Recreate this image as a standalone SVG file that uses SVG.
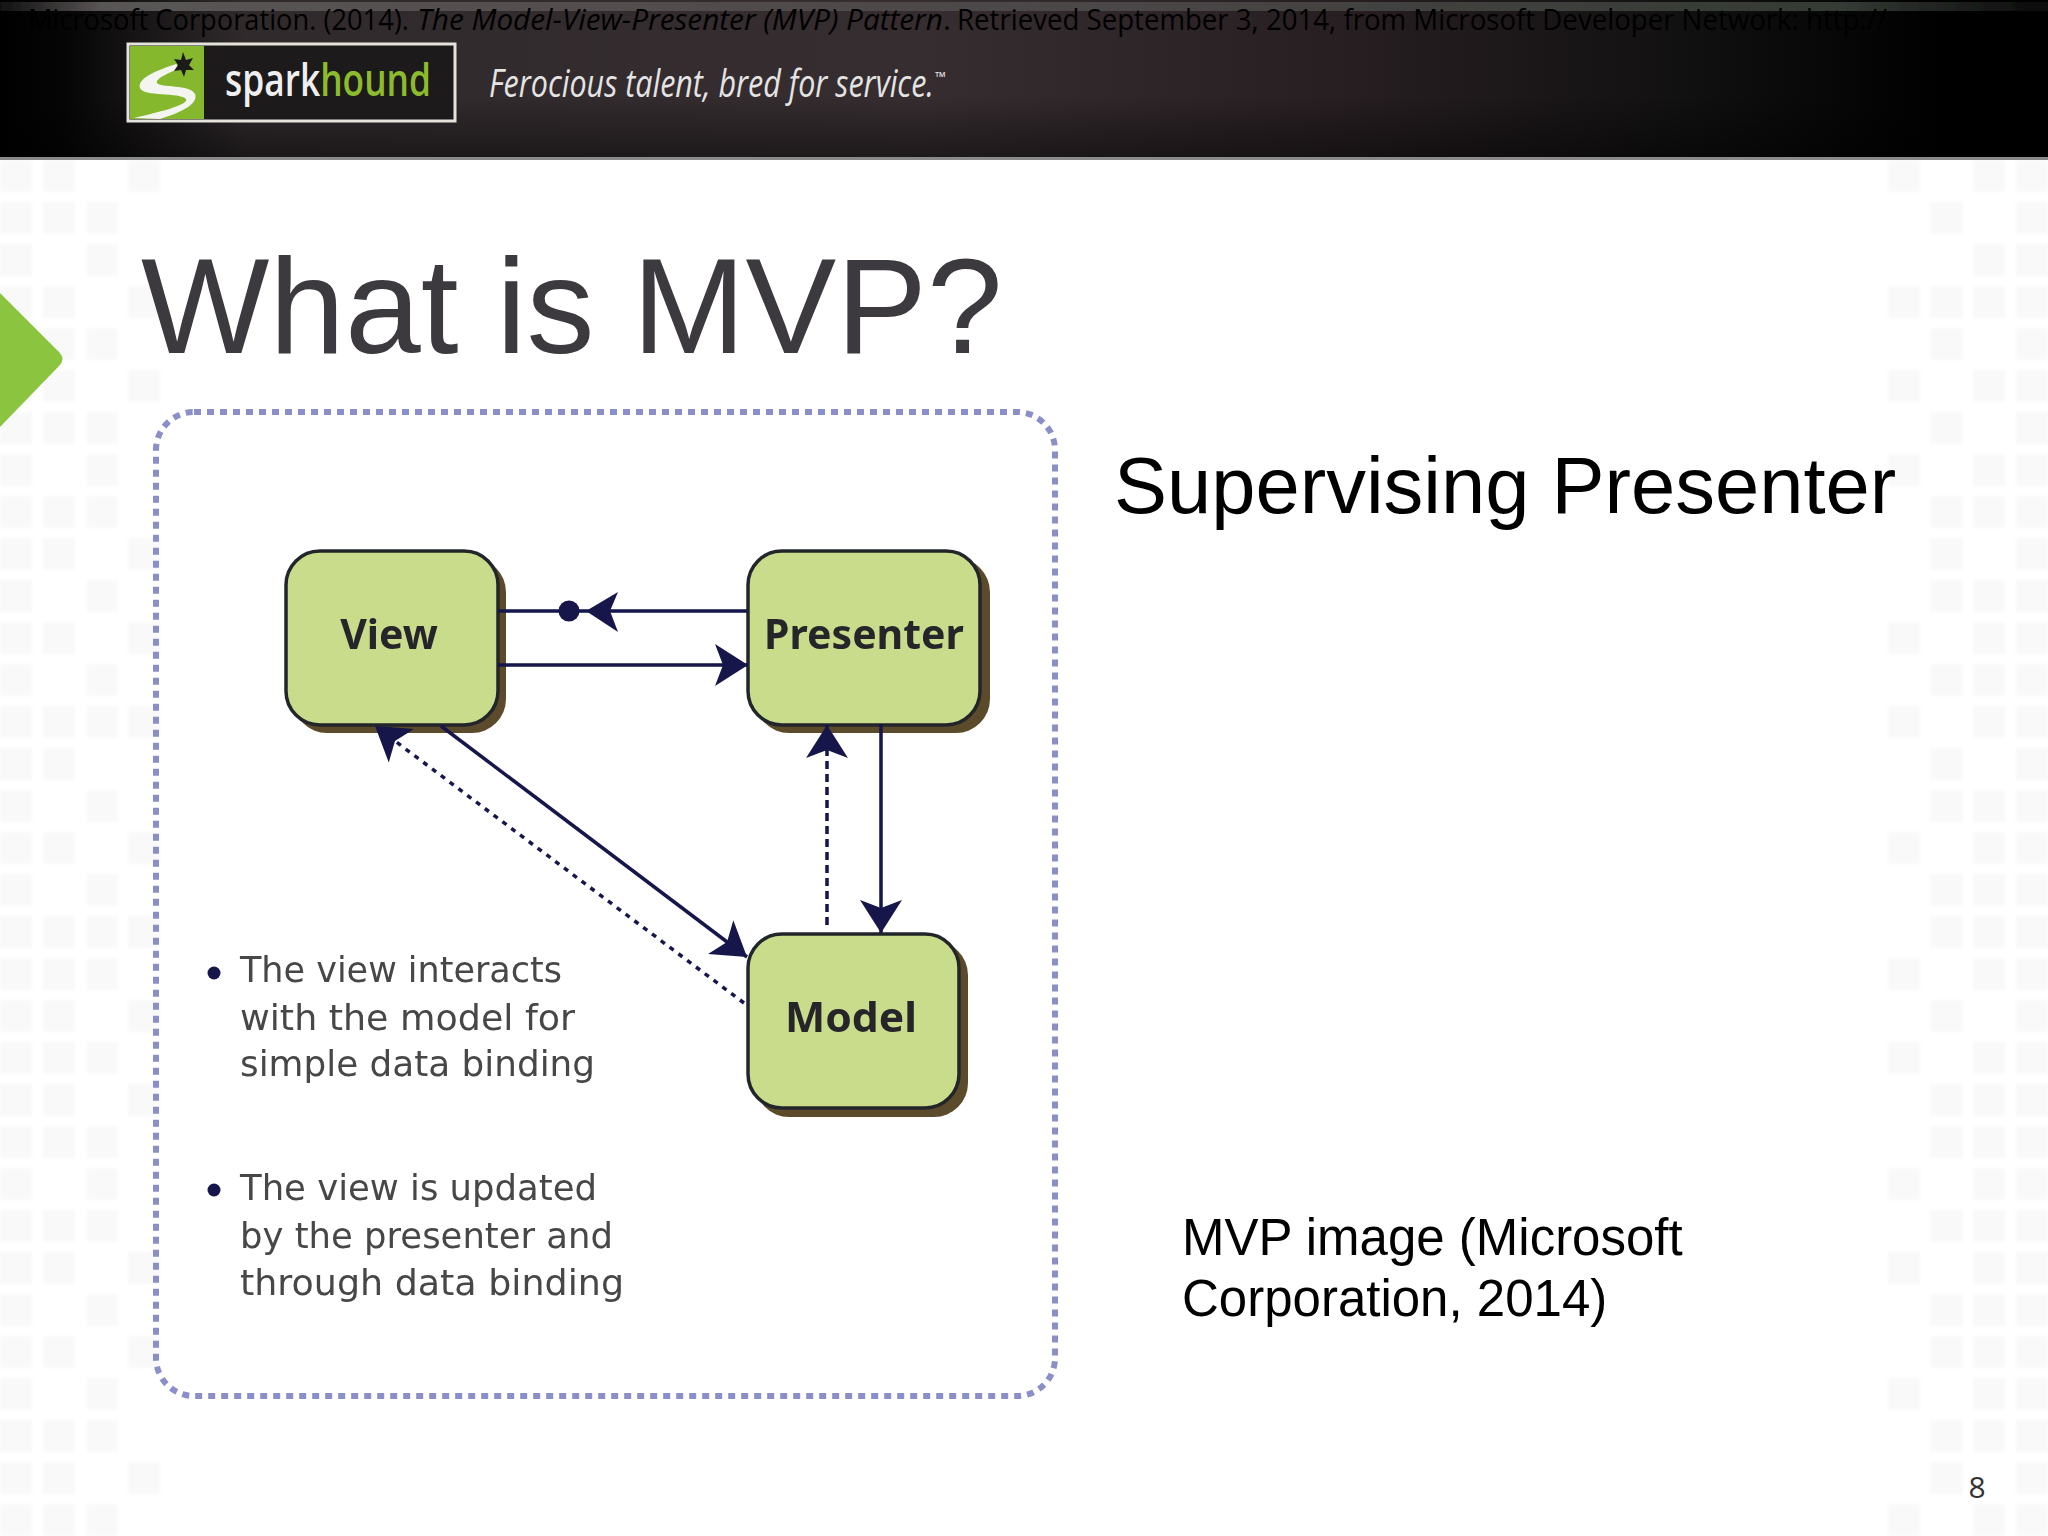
<svg xmlns="http://www.w3.org/2000/svg" width="2048" height="1536" viewBox="0 0 2048 1536">
<style>
.conn{fill:none;stroke:#16164c;stroke-width:3.5}
.node{fill:#c9dc8b;stroke:#23262a;stroke-width:3.5}
.shadow{fill:#5c4c2c}
.nlabel{font-family:"Noto Sans","DejaVu Sans",sans-serif;font-weight:700;font-size:41px;fill:#26282a}
.note{font-family:"DejaVu Sans","Noto Sans",sans-serif;font-size:35px;fill:#474747}
.sans{font-family:"Liberation Sans",Arial,sans-serif;fill:#000}
.cit{font-family:"Open Sans","Noto Sans",sans-serif;font-size:30px;fill:#000}
.cell{fill:none;stroke:#f9f9fa;stroke-width:32}
</style>
<defs>
<linearGradient id="hdr" x1="0" x2="1" y1="0" y2="0">
<stop offset="0" stop-color="#000"/><stop offset=".03" stop-color="#050505"/><stop offset=".12" stop-color="#302a2c"/><stop offset=".45" stop-color="#362d30"/><stop offset=".65" stop-color="#281f22"/><stop offset=".82" stop-color="#121111"/><stop offset=".95" stop-color="#000"/>
</linearGradient>
<linearGradient id="hdrBot" x1="0" x2="0" y1="0" y2="1">
<stop offset="0" stop-color="#000" stop-opacity="0"/><stop offset=".6" stop-color="#000" stop-opacity="0"/><stop offset="1" stop-color="#000" stop-opacity=".45"/>
</linearGradient>
<linearGradient id="hdrTop" x1="0" x2="1" y1="0" y2="0">
<stop offset="0" stop-color="#111"/><stop offset=".05" stop-color="#5a5555"/><stop offset=".55" stop-color="#4a4646"/><stop offset=".9" stop-color="#343a34"/><stop offset="1" stop-color="#0a0a0a"/>
</linearGradient>
<marker id="head" markerUnits="userSpaceOnUse" markerWidth="36" markerHeight="48" viewBox="0 0 36 48" refX="33" refY="24" orient="auto">
<path d="M33 24L0 3L8 24L0 45Z" fill="#16164c"/>
</marker>
<filter id="soft" x="-5%" y="-5%" width="110%" height="110%"><feGaussianBlur stdDeviation="0.7"/></filter>
<filter id="softer" x="-5%" y="-5%" width="110%" height="110%"><feGaussianBlur stdDeviation="1.5"/></filter>
</defs>
<rect width="2048" height="1536" fill="#fff"/>
<g id="background" class="cell" filter="url(#softer)">
<path class="cell" d="M16 160V1536" stroke-width="33" stroke-dasharray="32 10"/>
<path class="cell" d="M43 176h32M43 218h32M43 302h32M43 344h32M43 386h32M43 428h32M43 512h32M43 554h32M43 638h32M43 722h32M43 764h32M43 848h32M43 932h32M43 974h32M43 1016h32M43 1058h32M43 1100h32M43 1142h32M43 1226h32M43 1268h32M43 1352h32M43 1436h32M43 1478h32M43 1520h32"/>
<path class="cell" d="M87 218h31M87 260h31M87 344h31M87 428h31M87 470h31M87 512h31M87 596h31M87 680h31M87 722h31M87 806h31M87 890h31M87 932h31M87 974h31M87 1058h31M87 1142h31M87 1184h31M87 1226h31M87 1310h31M87 1394h31M87 1436h31M87 1520h31"/>
<path class="cell" d="M128 176h32M128 302h32M128 386h32M128 554h32M128 638h32M128 722h32M128 848h32M128 932h32M128 1016h32M128 1100h32M128 1268h32M128 1352h32M128 1478h32"/>
<path class="cell" d="M1888 176h32M1888 302h32M1888 386h32M1888 470h32M1888 638h32M1888 722h32M1888 848h32M1888 974h32M1888 1058h32M1888 1184h32M1888 1268h32M1888 1394h32M1888 1520h32"/>
<path class="cell" d="M1930 218h33M1930 302h33M1930 344h33M1930 428h33M1930 512h33M1930 554h33M1930 596h33M1930 680h33M1930 764h33M1930 806h33M1930 890h33M1930 932h33M1930 1016h33M1930 1100h33M1930 1142h33M1930 1226h33M1930 1310h33M1930 1352h33M1930 1436h33M1930 1478h33"/>
<path class="cell" d="M1973 176h32M1973 260h32M1973 302h32M1973 386h32M1973 470h32M1973 512h32M1973 596h32M1973 638h32M1973 680h32M1973 722h32M1973 806h32M1973 848h32M1973 890h32M1973 932h32M1973 974h32M1973 1058h32M1973 1100h32M1973 1142h32M1973 1184h32M1973 1226h32M1973 1268h32M1973 1310h32M1973 1352h32M1973 1394h32M1973 1436h32M1973 1520h32"/>
<path class="cell" d="M2032 160V1536" stroke-width="31" stroke-dasharray="32 10"/>
</g>
<g id="header">
<rect width="2048" height="158" fill="url(#hdr)"/>
<rect width="2048" height="158" fill="url(#hdrBot)"/>
<rect y="2" width="2048" height="9" fill="url(#hdrTop)" filter="url(#soft)"/>
<rect y="157" width="2048" height="3" fill="#8a8a8a"/>
<text class="cit" x="28" y="30" textLength="381" lengthAdjust="spacingAndGlyphs">Microsoft Corporation. (2014).</text>
<text class="cit" x="417" y="30" textLength="526" lengthAdjust="spacingAndGlyphs" font-style="italic">The Model-View-Presenter (MVP) Pattern</text>
<text class="cit" x="943" y="30">.</text>
<text class="cit" x="957" y="30" textLength="930" lengthAdjust="spacingAndGlyphs">Retrieved September 3, 2014, from Microsoft Developer Network: http://</text>
</g>
<g id="logo">
<rect x="128" y="44" width="327" height="77" fill="#1d1a1b" stroke="#e4e4dc" stroke-width="3"/>
<rect x="130" y="46" width="74" height="73" fill="#86b82e"/>
<path d="M176 64C158 70 137 78 140 88C143 97 180 92 186 99C190 105 155 113 134 118L160 119C180 113 199 104 195 94C190 84 160 88 157 83C155 79 168 73 180 68Z" fill="#f4f4f0"/>
<path d="M183 52l3 8l7-2l-4 7l5 5l-8 0l-2 7l-3-7l-7 1l4-6l-4-6l7 1Z" fill="#1d1a1b"/>
<text x="225" y="96" font-family="Open Sans,Noto Sans,sans-serif" font-weight="600" font-size="46" textLength="206" lengthAdjust="spacingAndGlyphs" fill="#efefef">spark<tspan fill="#8dbb2e">hound</tspan></text>
<text x="489" y="97" font-family="Open Sans,Noto Sans,sans-serif" font-style="italic" font-size="38" textLength="445" lengthAdjust="spacingAndGlyphs" fill="#e4e4e4">Ferocious talent, bred for service.</text>
<text x="935" y="82" font-family="Open Sans,Noto Sans,sans-serif" font-size="14" fill="#e4e4e4">™</text>
</g>
<path id="marker-arrow" d="M0 293L59 352Q66 359 59 366L0 427Z" fill="#8bc540"/>
<text id="title" x="141" y="353" font-family="Liberation Sans,Arial,sans-serif" font-size="136" fill="#3c3a3e">What is MVP?</text>
<rect id="frame" x="156" y="412" width="899" height="984" rx="38" fill="none" stroke="#8a8fc8" stroke-width="6" stroke-dasharray="7 6"/>
<g id="diagram" filter="url(#soft)">
<g id="node-view">
<rect class="shadow" x="293" y="558" width="213" height="175" rx="34"/>
<rect class="node" x="286" y="551" width="212" height="174" rx="34"/>
<text class="nlabel" x="389" y="649" text-anchor="middle">View</text>
</g>
<g id="node-presenter">
<rect class="shadow" x="755" y="558" width="235" height="175" rx="34"/>
<rect class="node" x="748" y="551" width="232" height="174" rx="34"/>
<text class="nlabel" x="864" y="649" text-anchor="middle">Presenter</text>
</g>
<g id="node-model">
<rect class="shadow" x="755" y="941" width="213" height="176" rx="34"/>
<rect class="node" x="748" y="934" width="211" height="174" rx="34"/>
<text class="nlabel" x="785" y="1032" textLength="132" lengthAdjust="spacingAndGlyphs">Model</text>
</g>
<g id="connectors">
<path class="conn" d="M498 611H747"/>
<path d="M586 611L618 592L610 611L618 632Z" fill="#16164c"/>
<circle cx="569" cy="611" r="10.5" fill="#16164c"/>
<path class="conn" d="M498 665H748" marker-end="url(#head)"/>
<path class="conn" d="M881 724V933" marker-end="url(#head)"/>
<path class="conn" d="M827 925V725" stroke-dasharray="8 5" marker-end="url(#head)"/>
<path class="conn" d="M441 726L747 957" marker-end="url(#head)"/>
<path class="conn" d="M744 1003L375 726" stroke-dasharray="5 6" marker-end="url(#head)"/>
</g>
<g id="notes">
<circle cx="214" cy="973" r="6.5" fill="#16164c"/>
<text class="note" x="240" y="982" textLength="322" lengthAdjust="spacingAndGlyphs">The view interacts</text>
<text class="note" x="240" y="1030" textLength="335" lengthAdjust="spacingAndGlyphs">with the model for</text>
<text class="note" x="240" y="1076" textLength="355" lengthAdjust="spacingAndGlyphs">simple data binding</text>
<circle cx="214" cy="1190" r="6.5" fill="#16164c"/>
<text class="note" x="240" y="1200" textLength="357" lengthAdjust="spacingAndGlyphs">The view is updated</text>
<text class="note" x="240" y="1248" textLength="373" lengthAdjust="spacingAndGlyphs">by the presenter and</text>
<text class="note" x="240" y="1295" textLength="384" lengthAdjust="spacingAndGlyphs">through data binding</text>
</g>
</g>
<text class="sans" x="1114" y="513" font-size="79.5">Supervising Presenter</text>
<text class="sans" x="1182" y="1255" font-size="51">MVP image (Microsoft</text>
<text class="sans" x="1182" y="1316" font-size="51">Corporation, 2014)</text>
<text x="1977" y="1498" text-anchor="middle" font-family="Open Sans,Noto Sans,sans-serif" font-size="30" fill="#333">8</text>
</svg>
